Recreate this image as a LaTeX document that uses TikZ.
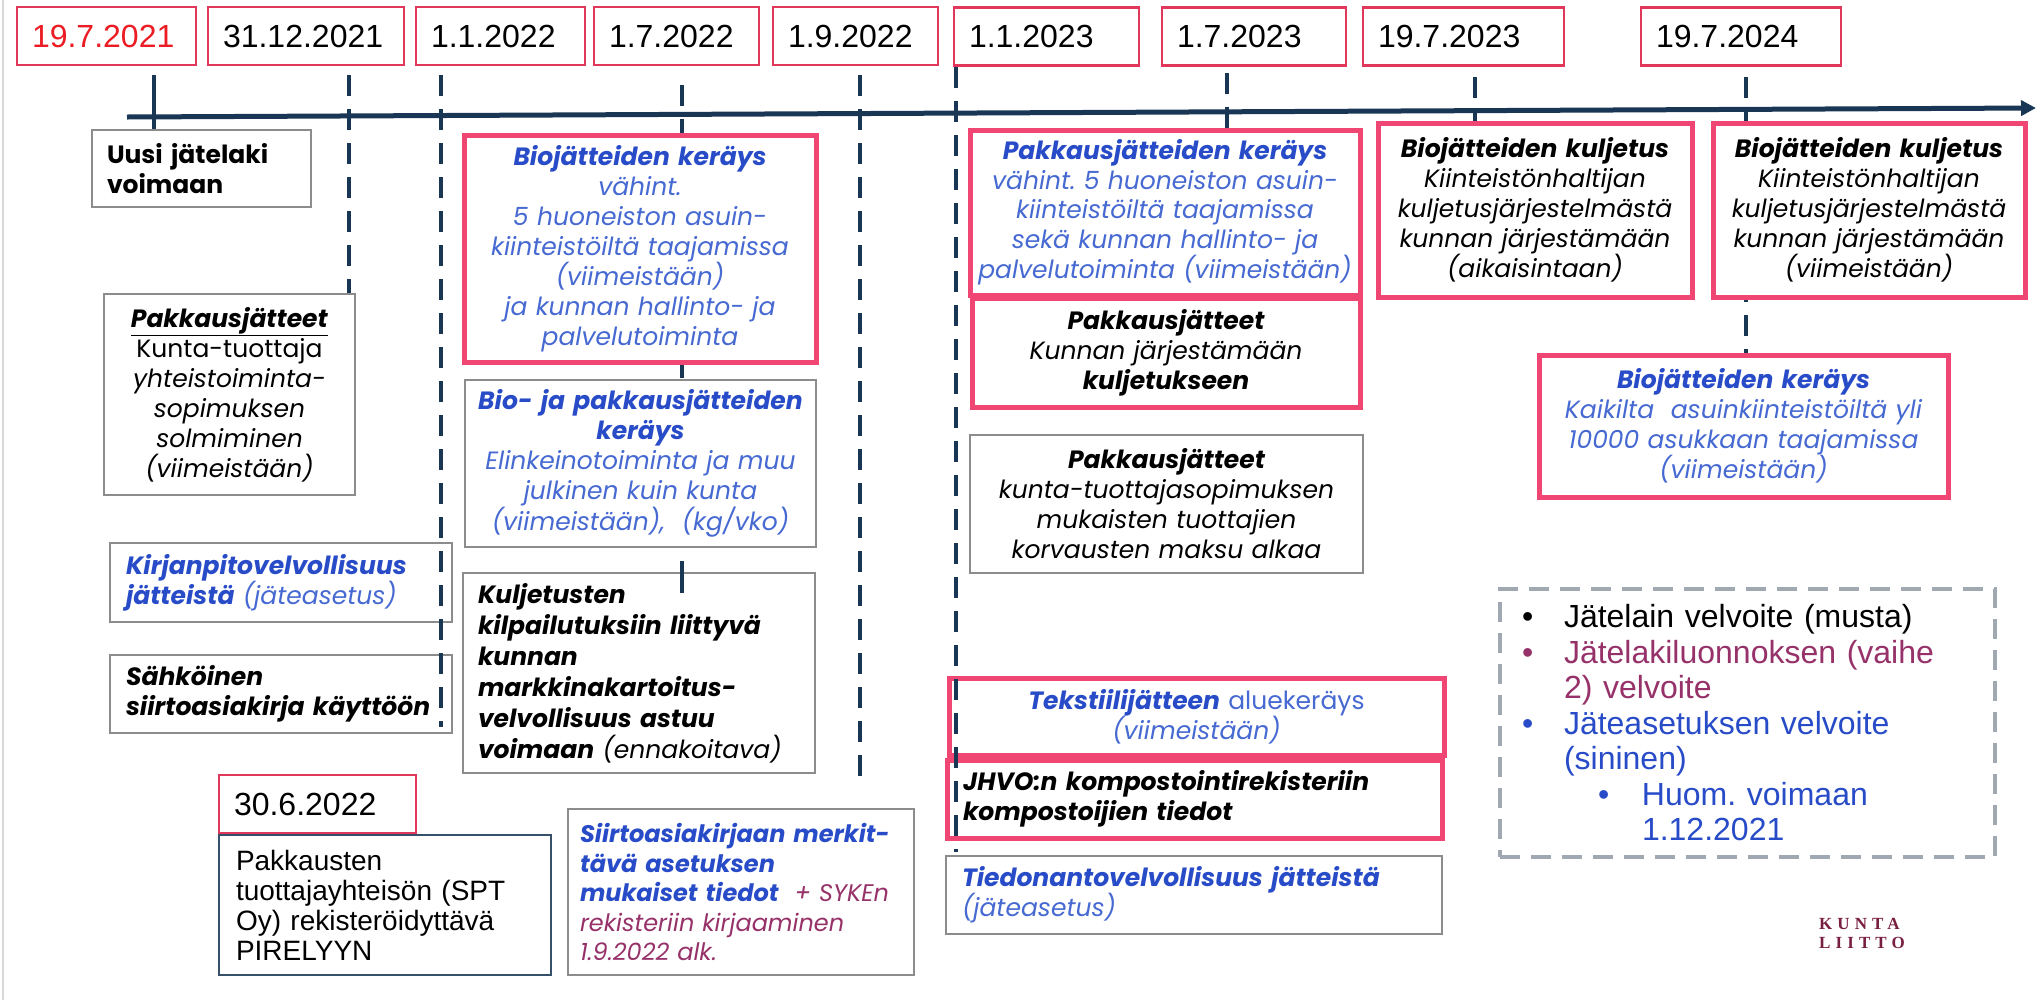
\documentclass[tikz,border=0pt]{standalone}
\usepackage{fontspec}
\setmainfont{Poppins}
\newfontfamily\datefont{Liberation Sans}
\newfontfamily\logofont[LetterSpace=30]{Liberation Serif}
\usetikzlibrary{arrows.meta,positioning}
\definecolor{navy}{RGB}{25,55,85}
\definecolor{pinkline}{RGB}{240,70,115}
\definecolor{datered}{RGB}{225,55,90}
\definecolor{redtxt}{RGB}{236,28,36}
\definecolor{bluetxt}{RGB}{40,75,200}
\definecolor{lbluetxt}{RGB}{70,105,210}
\definecolor{purptxt}{RGB}{150,50,105}
\definecolor{grayline}{RGB}{140,140,140}
\definecolor{boxblue}{RGB}{55,80,105}
\definecolor{legendgray}{RGB}{160,168,178}
\definecolor{logocol}{RGB}{120,30,65}
\frenchspacing

\begin{document}
\begin{tikzpicture}[x=1pt,y=-1pt,
 datebox/.style={draw=datered,line width=2.5pt,fill=white,minimum height=58pt,inner xsep=15pt,inner ysep=0pt,align=left,font=\datefont\fontsize{32}{36}\selectfont},
 box/.style={fill=white,inner sep=0pt,font=\fontsize{25}{30}\selectfont},
 graybox/.style={box,draw=grayline,line width=2pt},
 pinkbox/.style={box,draw=pinkline,line width=5pt},
 tline/.style={draw=navy,line width=4pt,dash pattern=on 21pt off 13pt}]
 \useasboundingbox[fill=white] (0,0) rectangle (2040,1005);
 \draw[gray!30,line width=1.5pt] (3,0) -- (3,1000);

 \node[datebox,text width=149pt] (d1) at (106.5,36) {\color{redtxt}19.7.2021};
 \node[datebox,text width=166pt] (d2) at (306,36) {31.12.2021};
 \node[datebox,text width=139pt] (d3) at (500.5,36) {1.1.2022};
 \node[datebox,text width=135pt] (d4) at (676.5,36) {1.7.2022};
 \node[datebox,text width=135pt] (d5) at (855.5,36) {1.9.2022};
 \node[datebox,text width=155pt] (d6) at (1046.5,36.5) {1.1.2023};
 \node[datebox,text width=154pt] (d7) at (1254,36.5) {1.7.2023};
 \node[datebox,text width=171pt] (d8) at (1463.5,36.5) {19.7.2023};
 \node[datebox,text width=170pt] (d9) at (1741,36.5) {19.7.2024};

 \coordinate (t4) at (682,85);
 \coordinate (t9) at (1746,77);
 \coordinate (b9) at (1746,357);
 \draw[tline] (t4) -- (682,573);
 \draw[tline] (t9) -- (b9);

 \node[graybox,minimum width=219pt,minimum height=77pt,text width=189pt,align=left] (uusi) at (201.5,168.5)
  {\bfseries Uusi jätelaki\\ voimaan};
 \node[graybox,minimum width=251pt,minimum height=201pt,text width=245pt,align=center] (pakk1) at (229.5,394.5)
  {\underline{\textbf{\textit{Pakkausjätteet}}}\\ Kunta-tuottaja\\ \itshape yhteistoiminta-\\ sopimuksen\\ solmiminen\\ (viimeistään)};
 \node[graybox,minimum width=342pt,minimum height=79pt,text width=310pt,align=left] (kirja) at (281,582.5)
  {{\bfseries\itshape\color{bluetxt}Kirjanpitovelvollisuus\\ jätteistä} {\itshape\color{lbluetxt}(jäteasetus)}};
 \node[graybox,minimum width=342pt,minimum height=78pt,text width=310pt,align=left] (sahko) at (281,694)
  {\bfseries\itshape Sähköinen\\ siirtoasiakirja käyttöön};
 \node[datebox,text width=167pt] (d10) at (317.5,804) {30.6.2022};
 \node[box,draw=boxblue,line width=2pt,minimum width=332pt,minimum height=140pt,text width=298pt,align=left,font=\datefont\fontsize{28}{30}\selectfont] (pirely) at (385,905)
  {Pakkausten\\ tuottajayhteisön (SPT\\ Oy) rekisteröidyttävä\\ PIRELYYN};
 \node[graybox,minimum width=346pt,minimum height=166pt,text width=322pt,align=left,font=\fontsize{24}{29.5}\selectfont] (siirto) at (741,892)
  {\bfseries\itshape\color{bluetxt}\mbox{Siirtoasiakirjaan merkit-}\\ tävä asetuksen\\ mukaiset tiedot\ \ {\mdseries\color{purptxt}+ SYKEn}\\ {\mdseries\color{purptxt}rekisteriin kirjaaminen}\\ {\mdseries\color{purptxt}1.9.2022 alk.}};

 \node[pinkbox,minimum width=352pt,minimum height=227pt,text width=346pt,align=center,text=lbluetxt] (bio1) at (640,248.5)
  {{\bfseries\itshape\color{bluetxt}Biojätteiden keräys}\\ \itshape vähint.\\ 5 huoneiston asuin-\\ kiinteistöiltä taajamissa\\ (viimeistään)\\ ja kunnan hallinto- ja\\ palvelutoiminta};
 \node[graybox,minimum width=351pt,minimum height=167pt,text width=345pt,align=center,text=lbluetxt] (biopakk) at (640.5,463.5)
  {{\bfseries\itshape\color{bluetxt}Bio- ja pakkausjätteiden\\ keräys}\\ \itshape Elinkeinotoiminta ja muu\\ julkinen kuin kunta\\ (viimeistään),\ \ (kg/vko)};
 \node[graybox,minimum width=352pt,minimum height=200pt,text width=322pt,align=left,font=\fontsize{25}{31}\selectfont] (kulj) at (639,673)
  {\bfseries\itshape Kuljetusten\\ kilpailutuksiin liittyvä\\ kunnan\\ markkinakartoitus-\\ velvollisuus astuu\\ voimaan {\mdseries (ennakoitava)}};

 \node[pinkbox,minimum width=390pt,minimum height=165pt,text width=384pt,align=center,text=lbluetxt,font=\fontsize{25}{29.5}\selectfont] (pakkker) at (1165,212.5)
  {{\bfseries\itshape\color{bluetxt}Pakkausjätteiden keräys}\\ \itshape vähint. 5 huoneiston asuin-\\ kiinteistöiltä taajamissa\\ sekä kunnan hallinto- ja\\ palvelutoiminta (viimeistään)};
 \node[pinkbox,minimum width=388pt,minimum height=109pt,text width=382pt,align=center] (pakkkulj) at (1166,352.5)
  {\itshape{\bfseries Pakkausjätteet}\\ Kunnan järjestämään\\ {\bfseries kuljetukseen}};
 \node[graybox,minimum width=393pt,minimum height=138pt,text width=387pt,align=center] (pakkkorv) at (1166.5,504)
  {\itshape{\bfseries Pakkausjätteet}\\ kunta-tuottajasopimuksen\\ mukaisten tuottajien\\ korvausten maksu alkaa};
 \node[pinkbox,minimum width=495pt,minimum height=77pt,text width=489pt,align=center,text=lbluetxt] (tekst) at (1196.5,716.5)
  {{\bfseries\itshape\color{bluetxt}Tekstiilijätteen} aluekeräys\\ \itshape(viimeistään)};
 \node[pinkbox,minimum width=495pt,minimum height=78pt,text width=463pt,align=left] (jhvo) at (1194.5,799)
  {\bfseries\itshape JHVO:n kompostointirekisteriin\\ kompostoijien tiedot};
 \node[graybox,minimum width=496pt,minimum height=78pt,text width=464pt,align=left,text=lbluetxt] (tiedon) at (1194,895)
  {{\bfseries\itshape\color{bluetxt}Tiedonantovelvollisuus jätteistä}\\ \itshape(jäteasetus)};

 \node[pinkbox,minimum width=314pt,minimum height=174pt,text width=308pt,align=center] (biokulj1) at (1535,210)
  {\itshape{\bfseries Biojätteiden kuljetus}\\ Kiinteistönhaltijan\\ kuljetusjärjestelmästä\\ kunnan järjestämään\\ (aikaisintaan)};
 \node[pinkbox,minimum width=312pt,minimum height=174pt,text width=306pt,align=center] (biokulj2) at (1869,210)
  {\itshape{\bfseries Biojätteiden kuljetus}\\ Kiinteistönhaltijan\\ kuljetusjärjestelmästä\\ kunnan järjestämään\\ (viimeistään)};
 \node[pinkbox,minimum width=409pt,minimum height=142pt,text width=403pt,align=center,text=lbluetxt] (bioker2) at (1743.5,426)
  {{\bfseries\itshape\color{bluetxt}Biojätteiden keräys}\\ \itshape Kaikilta\ \ asuinkiinteistöiltä yli\\ 10000 asukkaan taajamissa\\ (viimeistään)};

 \node[draw=legendgray,line width=4pt,dash pattern=on 20pt off 11pt,minimum width=495pt,minimum height=268pt,inner xsep=22pt,inner ysep=0pt,text width=451pt,align=left,font=\datefont\fontsize{32}{35.5}\selectfont] (legend) at (1747.5,723)
  {\makebox[42pt][l]{•}Jätelain velvoite (musta)\\
   \textcolor{purptxt}{\makebox[42pt][l]{•}Jätelakiluonnoksen (vaihe}\\
   \textcolor{purptxt}{\hspace*{42pt}2) velvoite}\\
   \textcolor{bluetxt}{\makebox[42pt][l]{•}Jäteasetuksen velvoite}\\
   \textcolor{bluetxt}{\hspace*{42pt}(sininen)}\\
   \textcolor{bluetxt}{\hspace*{76pt}\makebox[44pt][l]{•}Huom. voimaan}\\
   \textcolor{bluetxt}{\hspace*{120pt}1.12.2021}};
 \node[inner sep=0pt,align=left,text=logocol,font=\logofont\bfseries\fontsize{17}{19}\selectfont] (logo) at (1862,933) {KUNTA\\LIITTO};

 \coordinate (t1) at (154,75);
 \coordinate (t2) at (349,75);
 \coordinate (t3) at (441,75);
 \coordinate (b3) at (441,727);
 \coordinate (t5) at (860,75);
 \coordinate (b5) at (860,788);
 \coordinate (t6) at (956,67);
 \coordinate (b6) at (956,852);
 \coordinate (t7) at (1227,73);
 \coordinate (t8) at (1475,77);
 \draw[navy,line width=4pt] (t1) -- (t1 |- uusi.north);
 \draw[tline] (t2) -- (t2 |- pakk1.north);
 \draw[tline] (t3) -- (b3);
 \draw[tline] (kulj.north -| t4) -- ++(0,30);
 \draw[tline] (t5) -- (b5);
 \draw[tline] (t6) -- (b6);
 \draw[tline] (t7) -- (t7 |- pakkker.north);
 \draw[tline] (t8) -- (t8 |- biokulj1.north);

 \coordinate (ax0) at (127,117);
 \coordinate (ax1) at (2036,108);
 \draw[navy,line width=5pt,-{Triangle[length=15pt,width=15pt]}] (ax0) -- (ax1);
\end{tikzpicture}
\end{document}
